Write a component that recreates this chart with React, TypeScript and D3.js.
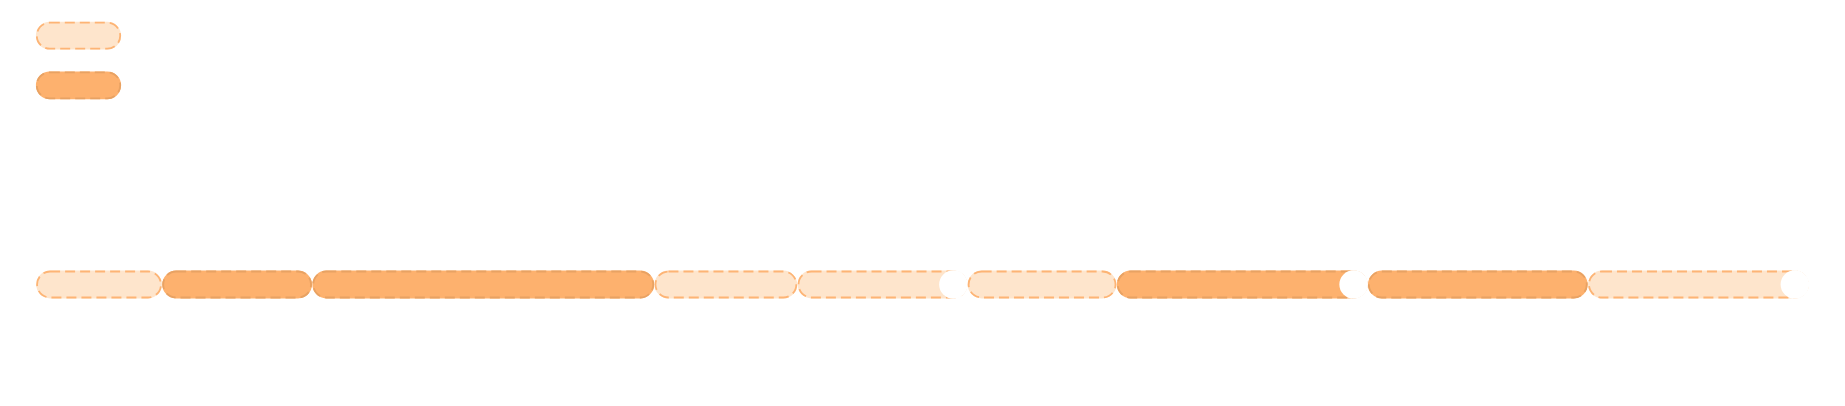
import React from "react";
import * as d3 from "d3";

// Legend entries (no visible labels in the reference)
const legendKinds = ["light", "dark"];

// Timeline segments, left to right
const segmentKinds = ["light", "dark", "dark", "light", "light", "light", "dark", "dark", "light"];
const segmentValues = [126, 150, 342, 143, 170, 149, 251, 220, 221];
const segmentCut = [false, false, false, false, true, false, true, false, true];

const W = 1845;
const H = 406;

const fills: Record<string, string> = { light: "#fee5cc", dark: "#fdb16e" };
const strokes: Record<string, string> = { light: "#fdb475", dark: "#e8a263" };

export default function App() {
  const total = d3.sum(segmentValues);
  const x = d3.scaleLinear().domain([0, total]).range([36, 1809]);
  const starts = d3.cumsum([0, ...segmentValues.slice(0, -1)]);
  const barH = 26;
  const barCy = 284.5;
  const r = barH / 2;
  const pad = 1.1;
  const sw = 1.8;
  const dash = "10,5";

  const legendY = d3.scalePoint<string>().domain(legendKinds).range([35.7, 85.3]);

  const pill = (key: string | number, x0: number, y0: number, w: number, k: string) => (
    <g key={key}>
      <rect x={x0} y={y0} width={w} height={barH} rx={r} ry={r}
        fill={fills[k]} stroke={fills[k]} strokeWidth={sw} />
      <rect x={x0} y={y0} width={w} height={barH} rx={r} ry={r}
        fill="none" stroke={strokes[k]} strokeWidth={sw} strokeDasharray={dash} />
    </g>
  );

  return (
    <svg width={W} height={H} style={{ position: "absolute", left: 0, top: 0, display: "block" }}>
      <g>
        {legendKinds.map((k) => pill(k, 36.8, (legendY(k) as number) - barH / 2, 83.4, k))}
      </g>
      <g>
        {segmentValues.map((v, i) => {
          const x0 = x(starts[i]) + pad;
          const x1 = x(starts[i] + v) - pad;
          const k = segmentKinds[i];
          return (
            <g key={i}>
              {pill("p" + i, x0, barCy - barH / 2, x1 - x0, k)}
              {segmentCut[i] && (
                <circle cx={x1 - r} cy={barCy} r={r + 1.3} fill="#ffffff" />
              )}
            </g>
          );
        })}
      </g>
    </svg>
  );
}
